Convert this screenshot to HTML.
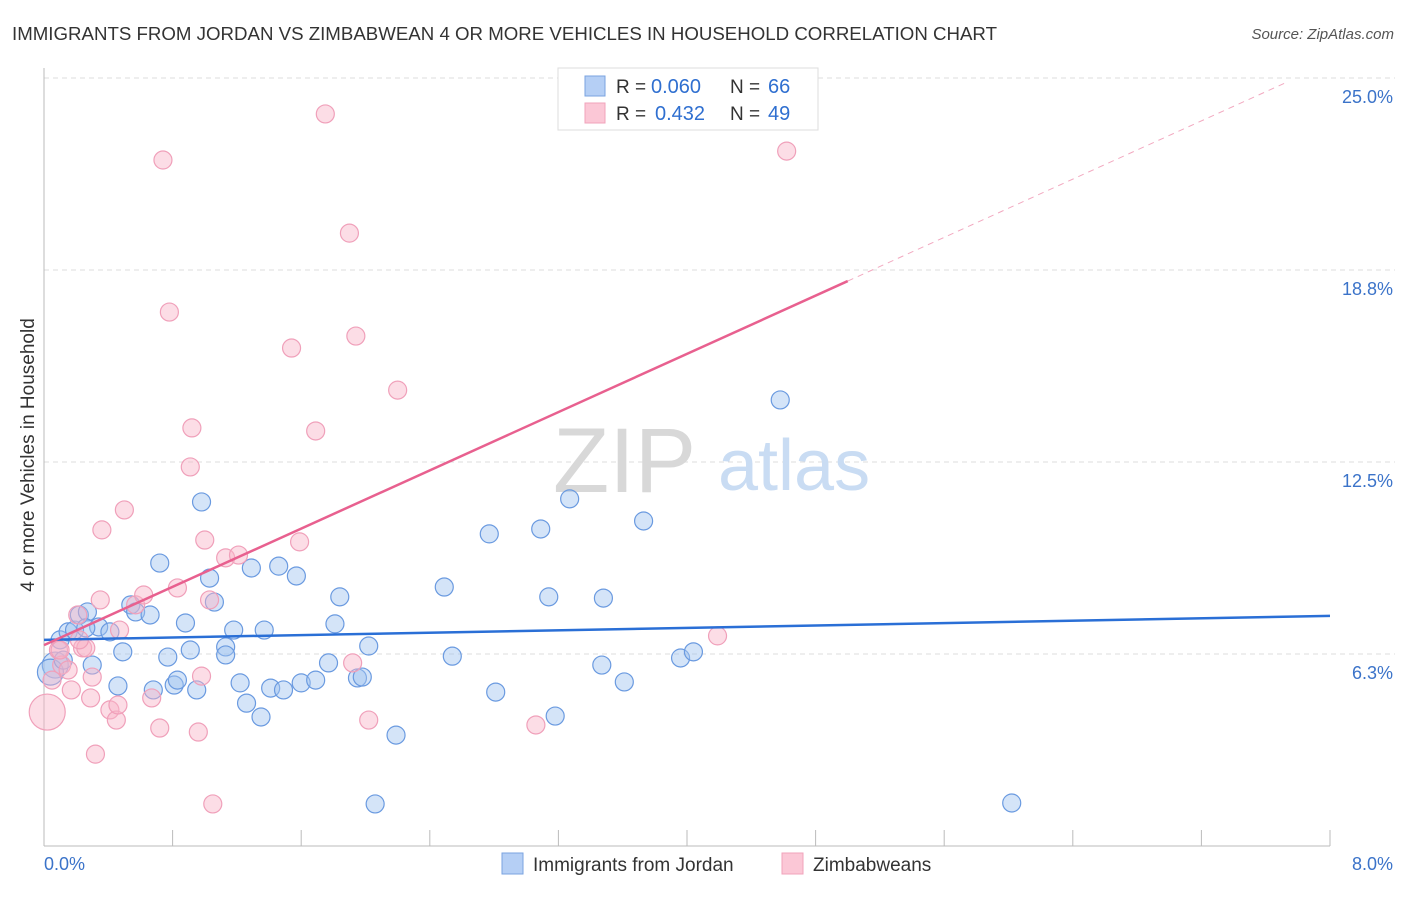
<!DOCTYPE html>
<html><head><meta charset="utf-8"><style>
body{margin:0;background:#fff;font-family:"Liberation Sans",sans-serif}
svg text{font-family:"Liberation Sans",sans-serif}
</style></head><body>
<svg width="1406" height="892" viewBox="0 0 1406 892">
<text x="12" y="40" font-size="18" fill="#333" textLength="985" lengthAdjust="spacingAndGlyphs">IMMIGRANTS FROM JORDAN VS ZIMBABWEAN 4 OR MORE VEHICLES IN HOUSEHOLD CORRELATION CHART</text>
<text x="1394" y="39" font-size="15" fill="#555" font-style="italic" text-anchor="end">Source: ZipAtlas.com</text>
<g id="grid"></g>
<g><text x="553" y="492" font-size="92" font-family="Liberation Serif,serif" fill="#d8d8d8">ZIP</text><text x="718" y="490" font-size="72" fill="#c9dcf3">atlas</text></g>
<g id="axes"></g>
<g id="pts"></g>
<g id="lines"></g>
<text transform="translate(34,455) rotate(-90)" font-size="19" fill="#333" text-anchor="middle">4 or more Vehicles in Household</text>
<g>
<rect x="558" y="68" width="260" height="62" fill="#fff" stroke="#ddd"/>
<rect x="585" y="76" width="20" height="20" fill="#b5cff5" stroke="#7aa3e0"/>
<rect x="585" y="103" width="20" height="20" fill="#fbc7d6" stroke="#f0a3bb"/>
<text x="616" y="93" font-size="19" fill="#333">R =</text>
<text x="651" y="93" font-size="20" fill="#2f6fd0">0.060</text>
<text x="730" y="93" font-size="19" fill="#333">N =</text>
<text x="768" y="93" font-size="20" fill="#2f6fd0">66</text>
<text x="616" y="120" font-size="19" fill="#333">R =</text>
<text x="655" y="120" font-size="20" fill="#2f6fd0">0.432</text>
<text x="730" y="120" font-size="19" fill="#333">N =</text>
<text x="768" y="120" font-size="20" fill="#2f6fd0">49</text>
</g>
<g>
<rect x="502" y="853" width="21" height="21" fill="#b5cff5" stroke="#7aa3e0"/>
<text x="533" y="871" font-size="19" fill="#333">Immigrants from Jordan</text>
<rect x="782" y="853" width="21" height="21" fill="#fbc7d6" stroke="#f0a3bb"/>
<text x="813" y="871" font-size="19" fill="#333">Zimbabweans</text>
</g>
</svg>
<script>
const blueX=[.07,.04,.10,.15,.19,.22,.27,.30,.34,.41,.46,.49,.54,.57,.66,.68,.72,.77,.81,.83,.88,.91,.95,.98,1.03,1.06,1.13,1.13,1.18,1.22,1.26,1.29,1.35,1.37,1.41,1.46,1.49,1.57,1.60,1.69,1.77,1.81,1.84,1.95,1.98,2.02,2.06,2.19,2.49,2.54,2.77,2.81,3.09,3.14,3.18,3.27,3.47,3.48,3.61,3.73,3.96,4.04,4.58,6.02,.12,.26];
const blueY=[5.89,5.66,6.71,6.97,7.03,7.52,7.62,5.89,7.13,6.97,5.21,6.32,7.85,7.62,7.52,5.08,9.21,6.15,5.24,5.40,7.26,6.38,5.08,11.20,8.72,7.94,6.48,6.22,7.03,5.31,4.65,9.05,4.20,7.03,5.14,9.11,5.08,8.79,5.31,5.40,5.96,7.23,8.11,5.47,5.50,6.51,1.37,3.61,8.43,6.18,10.16,5.01,10.32,8.11,4.23,11.30,5.89,8.07,5.34,10.58,6.12,6.32,14.52,1.40,6.05,7.10];
const pinkX=[.02,.05,.09,.11,.15,.17,.21,.24,.26,.29,.30,.35,.36,.41,.45,.46,.47,.50,.57,.62,.67,.72,.74,.78,.83,.92,.91,.96,.98,1.00,1.05,1.13,1.21,1.54,1.59,1.69,1.75,1.90,1.92,1.94,2.02,2.20,3.06,4.19,4.62,.32,.10,.22,1.03];
const pinkY=[4.36,5.40,6.38,5.89,5.73,5.08,7.52,6.45,6.45,4.82,5.50,8.01,10.29,4.43,4.10,4.59,7.03,10.94,7.85,8.17,4.82,3.84,22.33,17.38,8.40,13.61,12.34,3.71,5.53,9.96,1.37,9.38,9.47,16.21,9.90,13.51,23.83,19.95,5.96,16.60,4.10,14.84,3.94,6.84,22.62,2.99,6.38,6.71,8.01];
const blueTrend=[6.71,0.0975];
const pinkTrend=[6.54,2.37];
const yTicks=[6.25,12.5,18.75,25];
const yTickLabels=["6.3%","12.5%","18.8%","25.0%"];
const NS="http://www.w3.org/2000/svg";
const sx=v=>44+v/8*1286, sy=v=>846-v/25*768;
function mk(t,a,p){const e=document.createElementNS(NS,t);for(const k in a)e.setAttribute(k,a[k]);p.appendChild(e);return e;}
const grid=document.getElementById('grid'),axes=document.getElementById('axes');
yTicks.forEach((t,i)=>{
 const l=mk('line',{x1:44,x2:1395,y1:sy(t),y2:sy(t),stroke:'#ddd','stroke-dasharray':'5,4'},grid);
 
 
 const tx=mk('text',{x:1393,y:sy(t)+25,'font-size':18,fill:'#3b73c9','text-anchor':'end'},axes);
 tx.textContent=yTickLabels[i];
 
 
});
let a=mk('line',{x1:44,x2:44,y1:68,y2:846,stroke:'#bbb'},axes);
a=mk('line',{x1:44,x2:1330,y1:846,y2:846,stroke:'#bbb'},axes);
for(let i=0;i<=10;i++){const t=mk('line',{x1:sx(i*0.8),x2:sx(i*0.8),y1:830,y2:846,stroke:'#bbb'},axes);
 
 }
let xl=mk('text',{x:44,y:870,'font-size':18,fill:'#3b73c9'},axes);xl.textContent='0.0%';


xl=mk('text',{x:1393,y:870,'font-size':18,fill:'#3b73c9','text-anchor':'end'},axes);xl.textContent='8.0%';


const pts=document.getElementById('pts');
blueX.forEach((x,i)=>{const r=(i<2)?13:9;
 const c=mk('circle',{cx:sx(x),cy:sy(blueY[i]),r:r,fill:'rgba(160,195,240,0.45)',stroke:'#6a9ae0','stroke-width':1.2},pts);
 
 });
pinkX.forEach((x,i)=>{const r=(i==0)?18:9;
 const c=mk('circle',{cx:sx(x),cy:sy(pinkY[i]),r:r,fill:'rgba(248,180,200,0.45)',stroke:'#f0a0ba','stroke-width':1.2},pts);
 
 });
const lines=document.getElementById('lines');
let ln=mk('line',{x1:sx(0),y1:sy(blueTrend[0]),x2:sx(8),y2:sy(blueTrend[0]+8*blueTrend[1]),stroke:'#2a6fd6','stroke-width':2.5},lines);


ln=mk('line',{x1:sx(0),y1:sy(pinkTrend[0]),x2:sx(5),y2:sy(pinkTrend[0]+5*pinkTrend[1]),stroke:'#e8608f','stroke-width':2.5},lines);


ln=mk('line',{x1:sx(5),y1:sy(pinkTrend[0]+5*pinkTrend[1]),x2:sx(7.74),y2:sy(pinkTrend[0]+7.74*pinkTrend[1]),stroke:'#f2a9c0','stroke-width':1,'stroke-dasharray':'6,5'},lines);


</script>
</body></html>
